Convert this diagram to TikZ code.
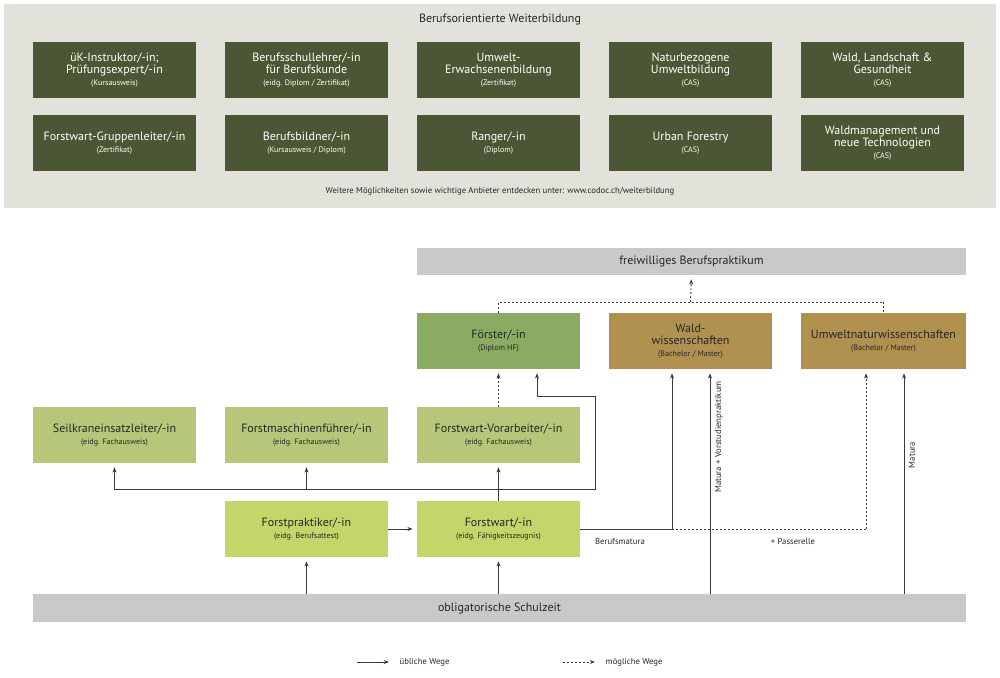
\documentclass[tikz,border=0pt]{standalone}
\usepackage{fontspec}
\setmainfont{PT Sans}
\usetikzlibrary{arrows.meta}
\definecolor{dk}{HTML}{4B5734}
\definecolor{panel}{HTML}{E2E2DB}
\definecolor{bar}{HTML}{C9C9C9}
\definecolor{foe}{HTML}{8BAA62}
\definecolor{brn}{HTML}{B09150}
\definecolor{mid}{HTML}{B6C77A}
\definecolor{lit}{HTML}{C6D56A}
\definecolor{ln}{HTML}{3A3A35}
\newcommand{\sm}[1]{\\[-1pt]{\fontsize{6}{7}\selectfont #1}}
\begin{document}
\begin{tikzpicture}[x=0.75pt,y=-0.75pt,
 box/.style={rectangle,inner sep=0pt,minimum width=122.25pt,minimum height=42pt,align=center,font=\fontsize{9}{10}\selectfont,text=black!85},
 top/.style={box,fill=dk,text=white},
 arr/.style={draw=ln,line width=0.7pt,-{Stealth[length=4pt,width=3pt]},shorten >=3pt},
 dsh/.style={draw=ln,line width=0.7pt,dash pattern=on 1.5pt off 1.5pt},
 lbl/.style={font=\fontsize{6.5}{7}\selectfont,text=black!85}]
\path[use as bounding box] (0,0) rectangle (1000,678);
\fill[panel] (4,4) rectangle (996,208);
\node[font=\fontsize{9}{10}\selectfont,text=black!85] (t) at (500,20) {Berufsorientierte Weiterbildung};
\node[top] (a1) at (114.5,70) {üK-Instruktor/-in;\\[-1pt]Prüfungsexpert/-in\sm{(Kursausweis)}};
\node[top] (a2) at (306.5,70) {Berufsschullehrer/-in\\[-1pt]für Berufskunde\sm{(eidg. Diplom / Zertifikat)}};
\node[top] (a3) at (498.5,70) {Umwelt-\\[-1pt]Erwachsenenbildung\sm{(Zertifikat)}};
\node[top] (a4) at (690.5,70) {Naturbezogene\\[-1pt]Umweltbildung\sm{(CAS)}};
\node[top] (a5) at (882.5,70) {Wald, Landschaft \&\\[-1pt]Gesundheit\sm{(CAS)}};
\node[top] (b1) at (114.5,143) {Forstwart-Gruppenleiter/-in\sm{(Zertifikat)}};
\node[top] (b2) at (306.5,143) {Berufsbildner/-in\sm{(Kursausweis / Diplom)}};
\node[top] (b3) at (498.5,143) {Ranger/-in\sm{(Diplom)}};
\node[top] (b4) at (690.5,143) {Urban Forestry\sm{(CAS)}};
\node[top] (b5) at (882.5,143) {Waldmanagement und\\[-1pt]neue Technologien\sm{(CAS)}};
\node[lbl] (ft) at (500,191) {Weitere Möglichkeiten sowie wichtige Anbieter entdecken unter: www.codoc.ch/weiterbildung};

\node[box,fill=bar,minimum width=411.75pt,minimum height=20.25pt] (fr) at (691.5,261.5) {freiwilliges Berufspraktikum};
\node[box,fill=foe] (foe) at (498.5,341) {Förster/-in\sm{(Diplom HF)}};
\node[box,fill=brn] (wald) at (690.5,341) {Wald-\\[-1pt]wissenschaften\sm{(Bachelor / Master)}};
\node[box,fill=brn,minimum width=123.75pt] (umw) at (883.5,341) {Umweltnaturwissenschaften\sm{(Bachelor / Master)}};
\node[box,fill=mid] (seil) at (114.5,435) {Seilkraneinsatzleiter/-in\sm{(eidg. Fachausweis)}};
\node[box,fill=mid] (fm) at (306.5,435) {Forstmaschinenführer/-in\sm{(eidg. Fachausweis)}};
\node[box,fill=mid] (vor) at (498.5,435) {Forstwart-Vorarbeiter/-in\sm{(eidg. Fachausweis)}};
\node[box,fill=lit] (fp) at (306.5,529) {Forstpraktiker/-in\sm{(eidg. Berufsattest)}};
\node[box,fill=lit] (fw) at (498.5,529) {Forstwart/-in\sm{(eidg. Fähigkeitszeugnis)}};
\node[box,fill=bar,minimum width=699.75pt,minimum height=21pt] (sch) at (499.5,608) {obligatorische Schulzeit};

% top dashed
\coordinate (td) at (690.5,302);
\draw[dsh] (foe.north) -- (foe.north |- td) -- (umw.north |- td) -- (umw.north);
\draw[dsh,-{Stealth[length=4pt,width=3pt]},shorten >=3pt] (td) -- (fr.south);
% Forstwart tree
\coordinate (j) at (498.5,489);
\draw[arr] (fw.north) -- (vor.south);
\draw[arr] (j) -| (seil.south);
\draw[arr] (fm.south |- j) -- (fm.south);
\coordinate (k1) at (595,489);
\coordinate (k2) at (595,396);
\coordinate (k3) at (537,396);
\draw[arr] (j) -- (k1) -- (k2) -- (k3) -- (k3 |- foe.south);
\draw[dsh,-{Stealth[length=4pt,width=3pt]},shorten >=3pt] (vor.north) -- (foe.south);
\draw[arr] (fp.east) -- (fw.west);
\draw[arr] (fp.south |- sch.north) -- (fp.south);
\draw[arr] (fw.south |- sch.north) -- (fw.south);
% university paths
\coordinate (bm) at (672,529);
\coordinate (ps) at (866,529);
\draw[arr] (fw.east) -- (bm) -- (bm |- wald.south);
\draw[dsh] (bm) -- (ps);
\draw[dsh,-{Stealth[length=4pt,width=3pt]},shorten >=3pt] (ps) -- (ps |- umw.south);
\coordinate (m1) at (710,594);
\coordinate (m2) at (904,594);
\draw[arr] (m1) -- (m1 |- wald.south);
\draw[arr] (m2) -- (m2 |- umw.south);
\node[lbl] (l1) at (620,541) {Berufsmatura};
\node[lbl] (l2) at (793,541) {+ Passerelle};
\node[lbl,rotate=90] (l3) at (719,437) {Matura + Vorstudienpraktikum};
\node[lbl,rotate=90] (l4) at (912,455) {Matura};
% legend
\coordinate (g1) at (357,662); \coordinate (g2) at (393,662);
\coordinate (g3) at (563,662); \coordinate (g4) at (599,662);
\draw[arr] (g1) -- (g2);
\draw[dsh,-{Stealth[length=4pt,width=3pt]},shorten >=3pt] (g3) -- (g4);
\node[lbl,anchor=west] (g2t) at (395,662) {übliche Wege};
\node[lbl,anchor=west] (g4t) at (601,662) {mögliche Wege};
\end{tikzpicture}
\end{document}
